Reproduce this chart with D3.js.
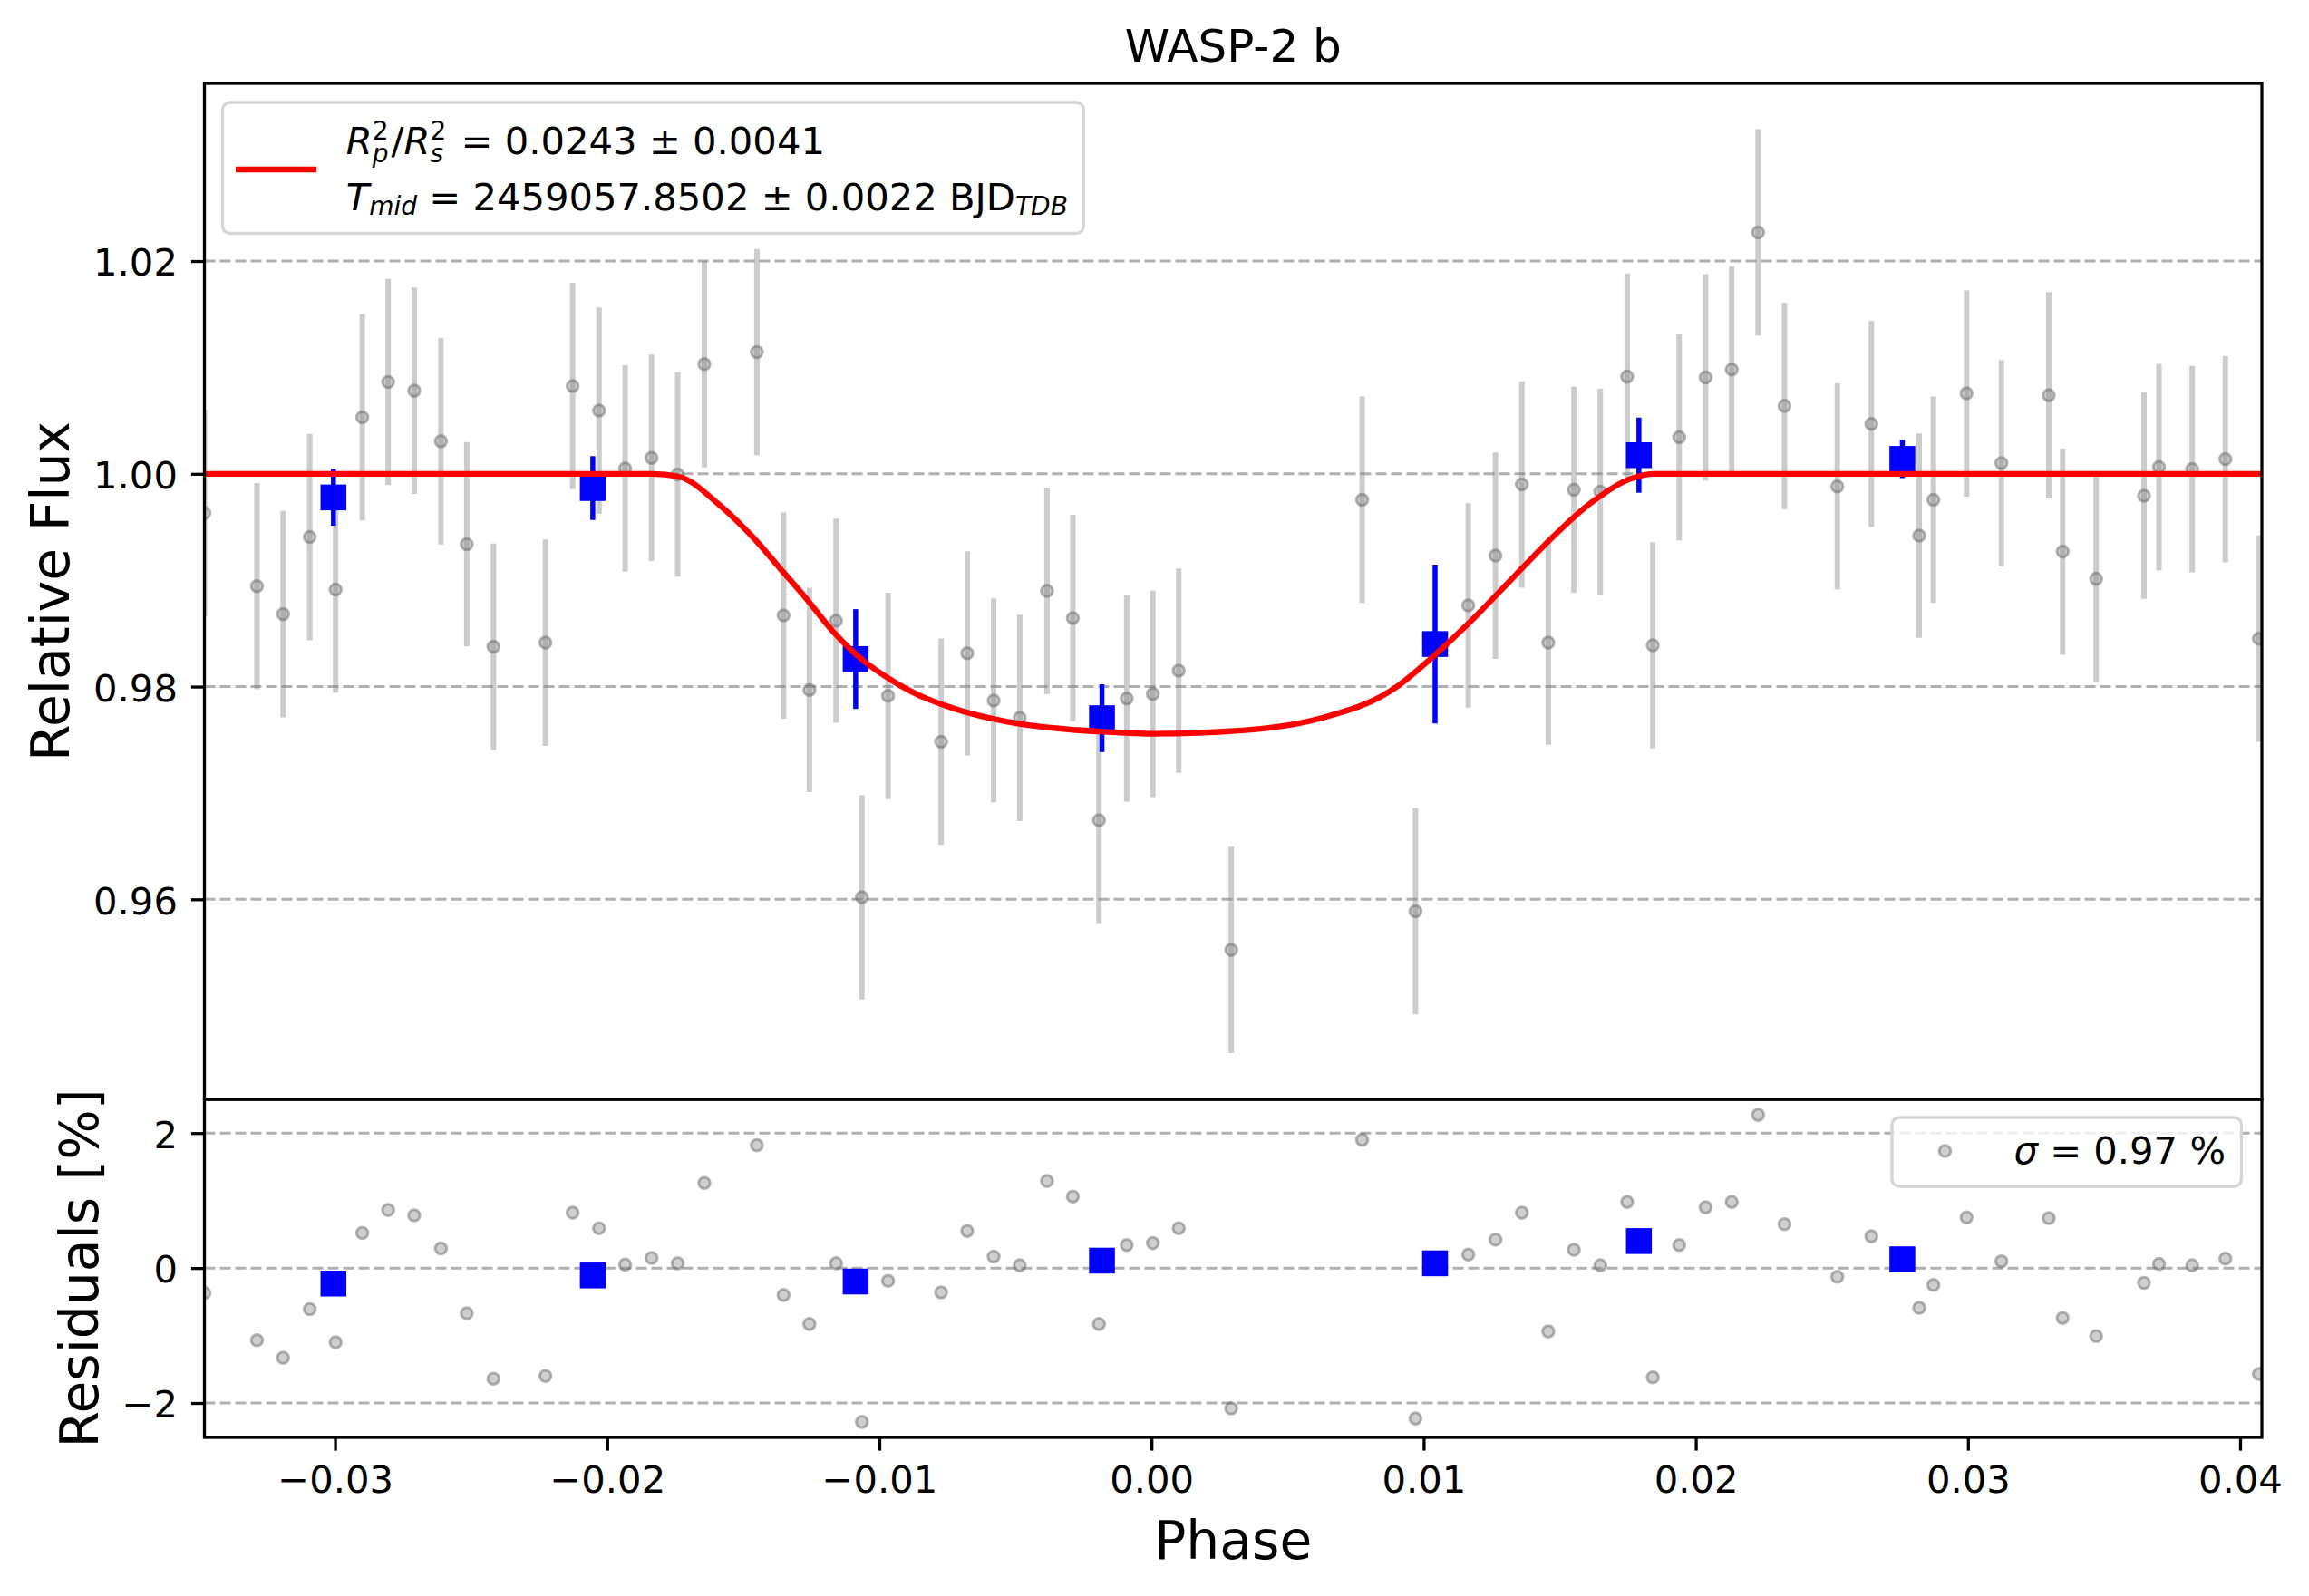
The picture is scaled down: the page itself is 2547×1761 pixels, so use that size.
<!DOCTYPE html>
<html>
<head>
<meta charset="utf-8">
<script src="https://cdn.jsdelivr.net/npm/d3@7"></script>
<style>
  body { margin: 0; background: #fff; }
  text { font-family: "DejaVu Sans", sans-serif; }
</style>
</head>
<body>
<div id="chart"></div>
<script>
(function () {

// unbinned light curve
var phase = [-0.03480, -0.03287, -0.03191, -0.03093, -0.02998, -0.02900, -0.02805, -0.02709, -0.02611, -0.02516,
  -0.02418, -0.02227, -0.02127, -0.02030, -0.01934, -0.01837, -0.01741, -0.01643, -0.01450, -0.01352,
  -0.01257, -0.01159, -0.01064, -0.00968, -0.00773, -0.00677, -0.00580, -0.00484, -0.00384, -0.00289,
  -0.00193, -0.00091, 0.00005, 0.00100, 0.00293, 0.00774, 0.00970, 0.01164, 0.01264, 0.01361,
  0.01458, 0.01552, 0.01649, 0.01748, 0.01842, 0.01939, 0.02036, 0.02132, 0.02229, 0.02326,
  0.02520, 0.02645, 0.02821, 0.02873, 0.02995, 0.03123, 0.03297, 0.03348, 0.03471, 0.03647,
  0.03702, 0.03824, 0.03946, 0.04069];
var flux = [0.99631, 0.98944, 0.98681, 0.99406, 0.98912, 1.00531, 1.00863, 1.00781, 1.00306, 0.99338,
  0.98375, 0.98413, 1.00825, 1.00594, 1.00050, 1.00150, 0.99994, 1.01031, 1.01144, 0.98669,
  0.97969, 0.98619, 0.96019, 0.97913, 0.97481, 0.98313, 0.97869, 0.97706, 0.98900, 0.98644,
  0.96744, 0.97888, 0.97931, 0.98150, 0.95525, 0.99756, 0.95888, 0.98763, 0.99231, 0.99900,
  0.98413, 0.99850, 0.99831, 1.00913, 0.98388, 1.00344, 1.00906, 1.00981, 1.02269, 1.00638,
  0.99881, 1.00469, 0.99419, 0.99756, 1.00756, 1.00100, 1.00738, 0.99269, 0.99013, 0.99794,
  1.00063, 1.00044, 1.00138, 0.98450];
var fluxErr = [0.0097, 0.0097, 0.0097, 0.0097, 0.0097, 0.0097, 0.0097, 0.0097, 0.0097, 0.0096,
  0.0097, 0.0097, 0.0097, 0.0097, 0.0097, 0.0097, 0.0096, 0.0097, 0.0097, 0.0097,
  0.0096, 0.0096, 0.0096, 0.0097, 0.0097, 0.0096, 0.0096, 0.0097, 0.0097, 0.0097,
  0.0097, 0.0097, 0.0097, 0.0096, 0.0097, 0.0097, 0.0097, 0.0096, 0.0097, 0.0097,
  0.0096, 0.0097, 0.0097, 0.0097, 0.0097, 0.0097, 0.0097, 0.0097, 0.0097, 0.0097,
  0.0097, 0.0097, 0.0096, 0.0097, 0.0097, 0.0097, 0.0097, 0.0097, 0.0097, 0.0097,
  0.0097, 0.0097, 0.0097, 0.0097];
var resid = [-0.37, -1.07, -1.33, -0.61, -1.10, 0.52, 0.86, 0.78, 0.29, -0.67,
  -1.64, -1.60, 0.82, 0.59, 0.05, 0.15, 0.07, 1.26, 1.82, -0.40,
  -0.83, 0.07, -2.28, -0.19, -0.36, 0.55, 0.17, 0.04, 1.29, 1.06,
  -0.83, 0.34, 0.37, 0.59, -2.08, 1.90, -2.23, 0.20, 0.42, 0.82,
  -0.94, 0.27, 0.04, 0.98, -1.62, 0.34, 0.90, 0.98, 2.27, 0.65,
  -0.13, 0.47, -0.59, -0.25, 0.75, 0.10, 0.74, -0.74, -1.01, -0.22,
  0.06, 0.04, 0.14, -1.57];

// binned points
var binPhase = [-0.03006, -0.02053, -0.01087, -0.00182, 0.01042, 0.01791, 0.02759];
var binFlux = [0.99778, 0.99866, 0.98259, 0.97703, 0.98400, 1.00175, 1.00140];
var binErr = [0.00266, 0.00300, 0.00469, 0.00319, 0.00747, 0.00353, 0.00180];
var binResid = [-0.23, -0.11, -0.20, 0.11, 0.07, 0.40, 0.13];

// transit model curve
var modelPhase = [-0.0348, -0.01834, -0.01739, -0.01590, -0.01463, -0.01357, -0.01272, -0.01166, -0.01059,
  -0.00953, -0.00890, -0.00741, -0.00529, -0.00316, -0.00172, 0.00005, 0.00333, 0.00618, 0.00888,
  0.01045, 0.01187, 0.01329, 0.01472, 0.01614, 0.01757, 0.01842, 0.0408];
var modelFlux = [1.0, 1.0, 0.99975, 0.99713, 0.99400, 0.99088, 0.98838, 0.98506, 0.98244,
  0.98056, 0.97963, 0.97806, 0.97669, 0.97600, 0.97575, 0.97556, 0.97588, 0.97700, 0.97975,
  0.98306, 0.98650, 0.99025, 0.99400, 0.99725, 0.99950, 1.0, 1.0];

var phaseTicks = [-0.03, -0.02, -0.01, 0.00, 0.01, 0.02, 0.03, 0.04];
var fluxTicks = [0.96, 0.98, 1.00, 1.02];
var residTicks = [-2, 0, 2];
var xLim = [-0.0348, 0.0408];
var fluxLim = [0.9412, 1.0367];
var residLim = [-2.51, 2.50];

var width = 2547, height = 1761;
var L = 225.5, R = 2495, T = 92, M = 1213, B = 1586;

var grey = "rgba(128,128,128,0.4)";
var dotFill = "rgba(128,128,128,0.38)";
var dotEdge = "rgba(95,95,95,0.45)";

var x = d3.scaleLinear().domain(xLim).range([L, R]);
var yF = d3.scaleLinear().domain(fluxLim).range([M, T]);
var yR = d3.scaleLinear().domain(residLim).range([B, M]);

var svg = d3.select("#chart").append("svg")
    .attr("width", width)
    .attr("height", height)
    .style("background", "#fff");

var defs = svg.append("defs");
defs.append("clipPath").attr("id", "clipTop")
    .append("rect").attr("x", L).attr("y", T).attr("width", R - L).attr("height", M - T);
defs.append("clipPath").attr("id", "clipBot")
    .append("rect").attr("x", L).attr("y", M).attr("width", R - L).attr("height", B - M);

var top = svg.append("g").attr("clip-path", "url(#clipTop)");
var bot = svg.append("g").attr("clip-path", "url(#clipBot)");

// dashed horizontal grid
function grid(g, ticks, y) {
  g.selectAll("line.grid").data(ticks).enter().append("line")
    .attr("class", "grid")
    .attr("x1", L).attr("x2", R)
    .attr("y1", function(d) { return y(d); })
    .attr("y2", function(d) { return y(d); })
    .attr("stroke", "#b0b0b0")
    .attr("stroke-width", 3)
    .attr("stroke-dasharray", "12,5");
}
grid(top, fluxTicks, yF);
grid(bot, residTicks, yR);

var idx = d3.range(phase.length);

function dots(g, yfn) {
  g.selectAll("circle.pt").data(idx).enter().append("circle")
    .attr("class", "pt")
    .attr("cx", function(i) { return x(phase[i]); })
    .attr("cy", yfn)
    .attr("r", 6.3)
    .attr("fill", dotFill)
    .attr("stroke", dotEdge)
    .attr("stroke-width", 3);
}

// grey error bars + points
top.selectAll("line.err").data(idx).enter().append("line")
  .attr("class", "err")
  .attr("x1", function(i) { return x(phase[i]); })
  .attr("x2", function(i) { return x(phase[i]); })
  .attr("y1", function(i) { return yF(flux[i] - fluxErr[i]); })
  .attr("y2", function(i) { return yF(flux[i] + fluxErr[i]); })
  .attr("stroke", grey)
  .attr("stroke-width", 6);

dots(top, function(i) { return yF(flux[i]); });
dots(bot, function(i) { return yR(resid[i]); });

// binned
var bIdx = d3.range(binPhase.length);
var sq = 28.5;
top.selectAll("line.berr").data(bIdx).enter().append("line")
  .attr("class", "berr")
  .attr("x1", function(i) { return x(binPhase[i]); })
  .attr("x2", function(i) { return x(binPhase[i]); })
  .attr("y1", function(i) { return yF(binFlux[i] - binErr[i]); })
  .attr("y2", function(i) { return yF(binFlux[i] + binErr[i]); })
  .attr("stroke", "#0000ff")
  .attr("stroke-width", 5.5);

top.selectAll("rect.bin").data(bIdx).enter().append("rect")
  .attr("class", "bin")
  .attr("x", function(i) { return x(binPhase[i]) - sq / 2; })
  .attr("y", function(i) { return yF(binFlux[i]) - sq / 2; })
  .attr("width", sq).attr("height", sq)
  .attr("fill", "#0000ff");

bot.selectAll("rect.bin").data(bIdx).enter().append("rect")
  .attr("class", "bin")
  .attr("x", function(i) { return x(binPhase[i]) - sq / 2; })
  .attr("y", function(i) { return yR(binResid[i]) - sq / 2; })
  .attr("width", sq).attr("height", sq)
  .attr("fill", "#0000ff");

// model
var line = d3.line()
  .x(function(i) { return x(modelPhase[i]); })
  .y(function(i) { return yF(modelFlux[i]); })
  .curve(d3.curveMonotoneX);

top.append("path")
  .attr("d", line(d3.range(modelPhase.length)))
  .attr("fill", "none")
  .attr("stroke", "#ff0000")
  .attr("stroke-width", 6.3);

// axes
function styleAxis(g) {
  g.select(".domain").remove();
  g.selectAll(".tick line").attr("stroke", "#000").attr("stroke-width", 3.3);
  g.selectAll(".tick text").attr("fill", "#000").style("font-size", "41.7px");
  g.attr("font-family", null).attr("font-size", null);
}

var yAxisTop = d3.axisLeft(yF).tickValues(fluxTicks).tickFormat(d3.format(".2f"))
  .tickSize(14.6).tickPadding(15);
svg.append("g").attr("transform", "translate(" + L + ",0)").call(yAxisTop).call(styleAxis)
  .selectAll(".tick text").attr("dy", "0.38em");

var yAxisBot = d3.axisLeft(yR).tickValues(residTicks).tickFormat(d3.format("d"))
  .tickSize(14.6).tickPadding(15);
svg.append("g").attr("transform", "translate(" + L + ",0)").call(yAxisBot).call(styleAxis)
  .selectAll(".tick text").attr("dy", "0.38em");

var xAxis = d3.axisBottom(x).tickValues(phaseTicks).tickFormat(d3.format(".2f"))
  .tickSize(14.6).tickPadding(15);
svg.append("g").attr("transform", "translate(0," + B + ")").call(xAxis).call(styleAxis)
  .selectAll(".tick text").attr("dy", "0.76em");

// spines
svg.append("rect").attr("x", L).attr("y", T).attr("width", R - L).attr("height", M - T)
  .attr("fill", "none").attr("stroke", "#000").attr("stroke-width", 3.3);
svg.append("rect").attr("x", L).attr("y", M).attr("width", R - L).attr("height", B - M)
  .attr("fill", "none").attr("stroke", "#000").attr("stroke-width", 3.3);

// titles
svg.append("text").attr("x", (L + R) / 2).attr("y", 68)
  .attr("text-anchor", "middle").style("font-size", "50px").text("WASP-2 b");
svg.append("text").attr("x", (L + R) / 2).attr("y", 1720)
  .attr("text-anchor", "middle").style("font-size", "58.3px").text("Phase");
svg.append("text").attr("transform", "translate(76," + ((T + M) / 2) + ") rotate(-90)")
  .attr("text-anchor", "middle").style("font-size", "58.3px").text("Relative Flux");
svg.append("text").attr("transform", "translate(108," + ((M + B) / 2) + ") rotate(-90)")
  .attr("text-anchor", "middle").style("font-size", "58.3px").text("Residuals [%]");

// legend, top panel
var leg = svg.append("g");
var legBox = leg.append("rect")
  .attr("x", 245.5).attr("y", 113).attr("height", 144.5).attr("rx", 8)
  .attr("fill", "rgba(255,255,255,0.8)").attr("stroke", "#d5d5d5").attr("stroke-width", 3.3);
leg.append("line").attr("x1", 260).attr("x2", 349).attr("y1", 187).attr("y2", 187)
  .attr("stroke", "#ff0000").attr("stroke-width", 6.3);

var scr = "28px";
function stack(t, base, sub, sup) {
  t.append("tspan").style("font-style", "italic").text(base);
  var s = t.append("tspan").attr("dy", 9).style("font-size", scr).style("font-style", "italic").text(sub);
  var w = s.node().getComputedTextLength();
  var p = t.append("tspan").attr("dx", -w).attr("dy", -25).style("font-size", scr).text(sup);
  var w2 = p.node().getComputedTextLength();
  return Math.max(0, w - w2);
}

var t1 = leg.append("text").attr("x", 381.7).attr("y", 170).style("font-size", "41.7px");
var ex = stack(t1, "R", "p", "2");
t1.append("tspan").attr("dx", ex + 3).attr("dy", 16).text("/");
ex = stack(t1, "R", "s", "2");
t1.append("tspan").attr("dx", ex + 3).attr("dy", 16).text(" = 0.0243 \u00b1 0.0041");

var t2 = leg.append("text").attr("x", 381.7).attr("y", 232).style("font-size", "41.7px");
t2.append("tspan").style("font-style", "italic").text("T");
t2.append("tspan").attr("dy", 5).style("font-size", scr).style("font-style", "italic").text("mid");
t2.append("tspan").attr("dy", -5).text(" = 2459057.8502 \u00b1 0.0022 BJD");
t2.append("tspan").attr("dy", 5).style("font-size", scr).style("font-style", "italic").text("TDB");

var e1 = t1.node().getBBox(), e2 = t2.node().getBBox();
var right = Math.max(e1.x + e1.width, e2.x + e2.width) + 17.5;
legBox.attr("width", right - 245.5);

// legend, residual panel
var leg2 = svg.append("g");
var box2 = leg2.append("rect").attr("y", 1233).attr("height", 76).attr("rx", 8)
  .attr("fill", "rgba(255,255,255,0.8)").attr("stroke", "#d5d5d5").attr("stroke-width", 3.3);
var s2 = leg2.append("text").attr("y", 1284).style("font-size", "41.7px");
s2.append("tspan").style("font-style", "italic").text("\u03c3");
s2.append("tspan").text(" = 0.97 %");
var sw = s2.node().getComputedTextLength();
var boxRight = 2472.5;
var tx = boxRight - 17.5 - sw;
s2.attr("x", tx);
leg2.append("circle").attr("cx", tx - 76).attr("cy", 1270).attr("r", 6.3)
  .attr("fill", dotFill).attr("stroke", dotEdge).attr("stroke-width", 3);
box2.attr("x", tx - 76 - 58.5).attr("width", boxRight - (tx - 76 - 58.5));

})();
</script>
</body>
</html>
